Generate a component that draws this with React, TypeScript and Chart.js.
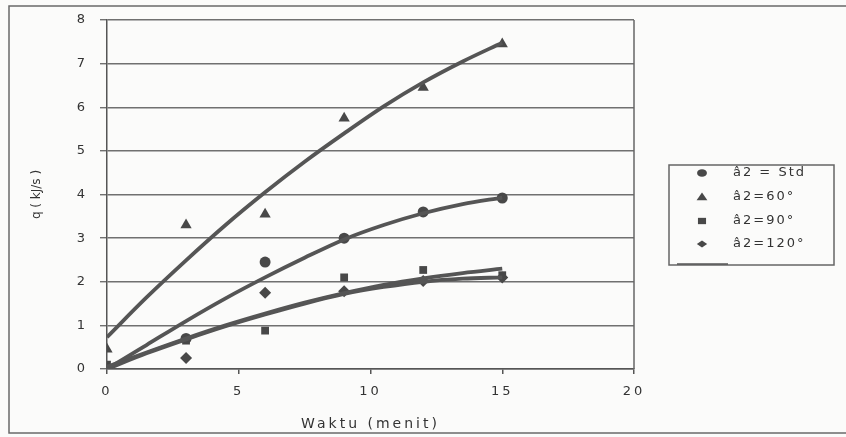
import React, { useEffect, useRef } from 'react';
import { Chart, registerables } from 'chart.js';

Chart.register(...registerables);

// Measured samples (time in minutes)
const sampleX = [0, 3, 6, 9, 12, 15];
const stdValues = [0, 0.7, 2.45, 3.0, 3.6, 3.92];
const a60Values = [0.45, 3.3, 3.55, 5.75, 6.45, 7.45];
const a90Values = [0.1, 0.65, 0.88, 2.1, 2.27, 2.15];
const a120Values = [0, 0.25, 1.75, 1.78, 2.02, 2.1];

// Trend curves
const trendX = [0, 1.5, 3, 4.5, 6, 7.5, 9, 10.5, 12, 13.5, 15];
const stdTrend = [0, 0.55, 1.1, 1.62, 2.1, 2.55, 2.97, 3.3, 3.57, 3.78, 3.93];
const a60Trend = [0.73, 1.64, 2.49, 3.3, 4.05, 4.75, 5.4, 6.02, 6.57, 7.05, 7.48];
const a90Trend = [0.05, 0.38, 0.7, 1.0, 1.27, 1.52, 1.74, 1.93, 2.08, 2.2, 2.3];
const a120Trend = [0, 0.36, 0.68, 0.98, 1.25, 1.5, 1.72, 1.88, 2.0, 2.07, 2.1];

const seriesLabels = ['â2 = Std', 'â2=60°', 'â2=90°', 'â2=120°'];
const pointStyles = ['circle', 'triangle', 'rect', 'rectRot'];
const trendLegendLabel = 'Poly. (â2 = Std)';

const xTickValues = [0, 5, 10, 15, 20];
const yTickValues = [0, 1, 2, 3, 4, 5, 6, 7, 8];
const xTitle = 'Waktu (menit)';
const yTitle = 'q ( kJ/s )';

const MARK = '#484848';
const LINE = '#555555';
const TEXT = '#333333';
const FONT = "'DejaVu Sans', sans-serif";

function toXY(xs: number[], ys: number[]) {
  return xs.map((x, i) => ({ x, y: ys[i] }));
}

function drawMarker(ctx: CanvasRenderingContext2D, style: string, x: number, y: number, r: number) {
  ctx.beginPath();
  if (style === 'circle') {
    ctx.ellipse(x, y, r * 1.1, r * 0.85, 0, 0, Math.PI * 2);
  } else if (style === 'triangle') {
    ctx.moveTo(x, y - r);
    ctx.lineTo(x + r * 1.2, y + r * 0.7);
    ctx.lineTo(x - r * 1.2, y + r * 0.7);
    ctx.closePath();
  } else if (style === 'rect') {
    ctx.rect(x - r * 0.9, y - r * 0.7, r * 1.8, r * 1.4);
  } else {
    ctx.moveTo(x, y - r * 0.8);
    ctx.lineTo(x + r * 1.15, y);
    ctx.lineTo(x, y + r * 0.8);
    ctx.lineTo(x - r * 1.15, y);
    ctx.closePath();
  }
  ctx.fill();
}

const framePlugin = {
  id: 'frameAndSpacing',
  beforeDraw(chart: any) {
    const ctx = chart.ctx as any;
    ctx.save();
    ctx.fillStyle = '#fbfbfa';
    ctx.fillRect(0, 0, chart.width, chart.height);
    ctx.strokeStyle = '#6a6a6a';
    ctx.lineWidth = 1.5;
    ctx.strokeRect(9, 6, chart.width + 10, 427);
    ctx.restore();
    const sy: any = chart.scales.y;
    if (sy && !sy.__patched) {
      const orig = sy.drawTitle;
      sy.drawTitle = function (...args: any[]) {
        const c: any = this.ctx;
        const prev = c.letterSpacing;
        c.letterSpacing = '0px';
        orig.apply(this, args);
        c.letterSpacing = prev;
      };
      sy.__patched = true;
    }
    ctx.letterSpacing = '3px';
  },
  afterDraw(chart: any) {
    const ctx = chart.ctx as any;
    const area = chart.chartArea;
    ctx.save();
    ctx.letterSpacing = '2px';
    // right border of plot area
    ctx.strokeStyle = '#666';
    ctx.lineWidth = 1.5;
    ctx.beginPath();
    ctx.moveTo(area.right, area.top);
    ctx.lineTo(area.right, area.bottom);
    ctx.stroke();

    // legend box
    const bx = 669, by = 165, bw = 165, bh = 100;
    ctx.fillStyle = '#fbfbfa';
    ctx.fillRect(bx, by, bw, bh);
    ctx.save();
    ctx.beginPath();
    ctx.rect(bx, by, bw, bh);
    ctx.clip();
    ctx.font = `13px ${FONT}`;
    ctx.textBaseline = 'middle';
    ctx.textAlign = 'left';
    const rows = [173, 197, 221, 244];
    const ds = chart.data.datasets;
    for (let i = 0; i < 4; i++) {
      ctx.fillStyle = MARK;
      drawMarker(ctx, pointStyles[i], 702, rows[i], 4.5);
      ctx.fillStyle = TEXT;
      ctx.fillText(ds[i].label, 733, rows[i]);
    }
    // fifth entry, cut off by the box
    ctx.strokeStyle = LINE;
    ctx.lineWidth = 3.5;
    ctx.beginPath();
    ctx.moveTo(677, 265);
    ctx.lineTo(728, 265);
    ctx.stroke();
    ctx.fillStyle = TEXT;
    ctx.fillText(trendLegendLabel, 733, 272);
    ctx.restore();
    ctx.strokeStyle = '#666';
    ctx.lineWidth = 1.5;
    ctx.strokeRect(bx, by, bw, bh);
    ctx.restore();
  },
};

export default function App() {
  const ref = useRef<HTMLCanvasElement | null>(null);

  useEffect(() => {
    if (!ref.current) return;
    const values = [stdValues, a60Values, a90Values, a120Values];
    const trends = [stdTrend, a60Trend, a90Trend, a120Trend];
    const radii = [5.5, 6.5, 5.5, 6];
    const markerSets = values.map((v, i) => ({
      label: seriesLabels[i],
      data: toXY(sampleX, v),
      showLine: false,
      pointStyle: pointStyles[i] as any,
      pointRadius: radii[i],
      pointBackgroundColor: MARK,
      pointBorderColor: MARK,
      pointBorderWidth: 0,
      order: 2,
    }));
    const trendSets = trends.map((t, i) => ({
      label: 'Poly. (' + seriesLabels[i] + ')',
      data: toXY(trendX, t),
      showLine: true,
      borderColor: LINE,
      borderWidth: 3.8,
      pointRadius: 0,
      cubicInterpolationMode: 'monotone' as const,
      fill: false,
      order: 1,
    }));

    const chart = new Chart(ref.current, {
      type: 'scatter',
      data: { datasets: [...markerSets, ...trendSets] as any },
      plugins: [framePlugin],
      options: {
        animation: false,
        responsive: false,
        maintainAspectRatio: false,
        layout: { padding: { left: 0, top: 20, right: 212, bottom: 0 } },
        plugins: { legend: { display: false }, tooltip: { enabled: false } },
        scales: {
          x: {
            type: 'linear',
            min: 0,
            max: 20,
            afterBuildTicks: (s: any) => {
              s.ticks = xTickValues.map((v) => ({ value: v }));
            },
            afterFit: (s: any) => {
              s.height = 68;
            },
            grid: { drawOnChartArea: false, drawTicks: true, tickLength: 5, color: '#555', lineWidth: 1.5 },
            border: { display: true, color: '#555', width: 1.5 },
            ticks: { color: TEXT, font: { family: FONT, size: 13 }, padding: 10, maxRotation: 0 },
            title: {
              display: true,
              text: xTitle,
              color: TEXT,
              font: { family: FONT, size: 14 },
              padding: { top: 0, bottom: 4 },
            },
          },
          y: {
            type: 'linear',
            min: 0,
            max: 8,
            afterBuildTicks: (s: any) => {
              s.ticks = yTickValues.map((v) => ({ value: v }));
            },
            afterFit: (s: any) => {
              s.width = 107;
            },
            grid: { color: '#707070', lineWidth: 1.4, drawTicks: true, tickLength: 7 },
            border: { display: true, color: '#555', width: 1.5 },
            ticks: { color: TEXT, font: { family: FONT, size: 13 }, padding: 12 },
            title: {
              display: true,
              text: yTitle,
              color: TEXT,
              font: { family: FONT, size: 12 },
              padding: { top: 30, bottom: 0 },
            },
          },
        },
      } as any,
    });
    return () => chart.destroy();
  }, []);

  return (
    <div style={{ position: 'fixed', left: 0, top: 0, width: 846, height: 437 }}>
      <canvas ref={ref} width={846} height={437} style={{ width: 846, height: 437, display: 'block' }} />
    </div>
  );
}
